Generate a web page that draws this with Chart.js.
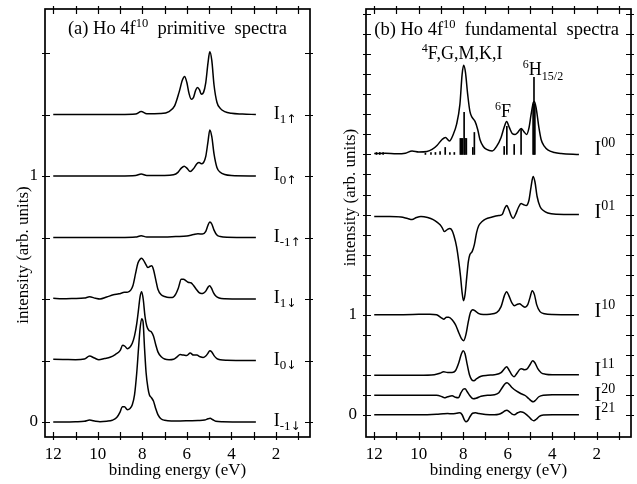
<!DOCTYPE html>
<html>
<head>
<meta charset="utf-8">
<script src="https://cdn.jsdelivr.net/npm/chart.js@4/dist/chart.umd.min.js"></script>
<style>
  html, body { margin: 0; padding: 0; background: #fff; }
  #wrap { position: relative; width: 637px; height: 484px; }
  #wrap canvas { position: absolute; top: 0; }
</style>
</head>
<body>
<div id="wrap">
  <canvas id="left" width="320" height="484" style="left:0"></canvas>
  <canvas id="right" width="317" height="484" style="left:320px"></canvas>
</div>
<script>
  // binding energy ticks (eV), both panels
  const energyTicks = [1, 2, 3, 4, 5, 6, 7, 8, 9, 10, 11, 12];

  // ---- (a) primitive spectra: [energy, intensity above its baseline]
  const I1up = [[12,0],[9,0],[8.3,0.002],[8.05,0.012],[7.8,0.003],[7.2,0.004],[6.8,0.012],[6.55,0.035],
    [6.35,0.09],[6.2,0.14],[6.1,0.155],[6.0,0.13],[5.9,0.085],[5.8,0.062],[5.7,0.07],[5.6,0.1],[5.52,0.11],
    [5.43,0.1],[5.35,0.082],[5.25,0.09],[5.15,0.13],[5.05,0.21],[4.97,0.255],[4.88,0.22],[4.78,0.12],
    [4.65,0.05],[4.5,0.025],[4.3,0.012],[4.0,0.005],[3.5,0.002],[2.9,0]];
  const I0up = [[12,0],[9,0],[8.3,0.002],[8.05,0.008],[7.8,0.002],[7.0,0.002],[6.6,0.005],[6.4,0.015],
    [6.25,0.032],[6.12,0.04],[6.0,0.032],[5.85,0.018],[5.7,0.03],[5.55,0.05],[5.45,0.055],[5.35,0.05],
    [5.25,0.055],[5.15,0.08],[5.05,0.14],[4.97,0.187],[4.88,0.16],[4.78,0.09],[4.65,0.035],[4.5,0.015],
    [4.3,0.006],[4.0,0.002],[2.9,0]];
  const Im1up = [[12,0],[9,0],[8.3,0.002],[8.05,0.007],[7.8,0.002],[7.0,0.002],[6.5,0.004],[6.0,0.006],
    [5.7,0.012],[5.5,0.015],[5.3,0.014],[5.15,0.025],[5.05,0.05],[4.97,0.063],[4.88,0.055],[4.78,0.03],
    [4.65,0.01],[4.5,0.004],[4.2,0.001],[2.9,0]];
  const I1dn = [[12,0.003],[11.6,0.001],[11.1,0.002],[10.6,0.004],[10.37,0.009],[10.1,0.003],[9.9,0],
    [9.6,0.008],[9.3,0.017],[9.05,0.021],[8.8,0.027],[8.65,0.028],[8.52,0.036],[8.42,0.055],[8.3,0.105],
    [8.2,0.145],[8.1,0.162],[8.03,0.166],[7.95,0.158],[7.85,0.142],[7.75,0.128],[7.65,0.133],[7.58,0.135],
    [7.5,0.12],[7.4,0.08],[7.3,0.04],[7.15,0.017],[7.0,0.01],[6.8,0.006],[6.65,0.006],[6.5,0.02],
    [6.38,0.045],[6.25,0.08],[6.15,0.08],[6.05,0.075],[5.95,0.068],[5.82,0.066],[5.7,0.055],[5.58,0.04],
    [5.45,0.026],[5.35,0.022],[5.25,0.024],[5.15,0.032],[5.05,0.048],[4.98,0.054],[4.9,0.045],[4.8,0.025],
    [4.7,0.012],[4.55,0.004],[4.3,0.001],[3.5,0],[2.9,0]];
  const I0dn = [[12,0.005],[11.5,0.004],[11.0,0.003],[10.6,0.006],[10.37,0.018],[10.15,0.01],[9.95,0.003],
    [9.7,0.008],[9.45,0.013],[9.2,0.025],[9.0,0.04],[8.88,0.062],[8.78,0.058],[8.67,0.048],[8.55,0.055],
    [8.45,0.07],[8.35,0.1],[8.25,0.15],[8.18,0.2],[8.1,0.26],[8.03,0.28],[7.96,0.25],[7.88,0.18],
    [7.8,0.14],[7.7,0.122],[7.6,0.117],[7.5,0.1],[7.4,0.065],[7.3,0.035],[7.15,0.015],[7.0,0.006],
    [6.8,0.003],[6.6,0.005],[6.45,0.014],[6.3,0.024],[6.15,0.022],[6.0,0.02],[5.85,0.03],[5.7,0.022],
    [5.55,0.022],[5.4,0.015],[5.27,0.012],[5.15,0.018],[5.05,0.03],[4.97,0.04],[4.88,0.035],[4.78,0.02],
    [4.65,0.008],[4.5,0.003],[4.2,0.001],[2.9,0]];
  const Im1dn = [[12,0],[11.5,0],[11.0,0.001],[10.6,0.003],[10.37,0.008],[10.1,0.003],[9.9,0.001],
    [9.6,0.003],[9.35,0.007],[9.15,0.018],[9.0,0.04],[8.9,0.062],[8.8,0.062],[8.67,0.05],[8.55,0.055],
    [8.45,0.07],[8.35,0.11],[8.25,0.2],[8.17,0.3],[8.1,0.38],[8.03,0.42],[7.97,0.41],[7.9,0.3],
    [7.83,0.2],[7.75,0.14],[7.68,0.11],[7.6,0.1],[7.5,0.085],[7.4,0.055],[7.3,0.03],[7.15,0.012],
    [7.0,0.007],[6.7,0.004],[6.3,0.004],[5.9,0.005],[5.5,0.006],[5.2,0.008],[5.05,0.013],[4.95,0.015],
    [4.85,0.01],[4.7,0.003],[4.4,0.001],[2.9,0]];
  const seriesA = [I1up, I0up, Im1up, I1dn, I0dn, Im1dn];
  const offsetsA = [1.25, 1.0, 0.75, 0.5, 0.25, 0];
  const subsA = ['1', '0', '-1', '1', '0', '-1'];
  const spinA = ['\u2191', '\u2191', '\u2191', '\u2193', '\u2193', '\u2193'];
  const yTicksA = [0, 0.25, 0.5, 0.75, 1.0, 1.25, 1.5];

  // ---- (b) fundamental spectra
  const I00 = [[12,0.01],[11.5,0.012],[11.0,0.006],[10.6,0.012],[10.3,0.035],[10.0,0.025],[9.63,0.03],
    [9.4,0.05],[9.18,0.09],[8.95,0.15],[8.8,0.17],[8.62,0.135],[8.45,0.2],[8.3,0.3],[8.15,0.5],[8.05,0.8],
    [7.98,0.89],[7.9,0.82],[7.8,0.6],[7.7,0.43],[7.6,0.37],[7.47,0.33],[7.35,0.25],[7.25,0.15],[7.1,0.08],
    [6.95,0.05],[6.7,0.035],[6.5,0.08],[6.3,0.17],[6.15,0.28],[6.05,0.33],[5.93,0.27],[5.8,0.21],
    [5.67,0.2],[5.55,0.22],[5.4,0.26],[5.28,0.23],[5.15,0.2],[5.05,0.26],[4.95,0.4],[4.85,0.52],
    [4.8,0.53],[4.72,0.46],[4.6,0.27],[4.5,0.15],[4.35,0.08],[4.2,0.045],[3.9,0.02],[3.6,0.01],[2.8,0]];
  const I01 = [[12,-0.02],[11.3,-0.02],[10.8,-0.025],[10.5,-0.04],[10.3,-0.05],[10.1,-0.03],[9.9,-0.02],
    [9.6,-0.03],[9.35,-0.05],[9.15,-0.08],[9.05,-0.1],[8.95,-0.13],[8.85,-0.17],[8.72,-0.15],[8.6,-0.14],
    [8.5,-0.16],[8.42,-0.21],[8.3,-0.32],[8.2,-0.47],[8.12,-0.62],[8.05,-0.78],[7.99,-0.86],[7.92,-0.8],
    [7.84,-0.62],[7.77,-0.47],[7.7,-0.4],[7.6,-0.37],[7.5,-0.3],[7.4,-0.18],[7.3,-0.11],[7.15,-0.07],
    [7.0,-0.045],[6.7,-0.025],[6.4,-0.01],[6.25,0.0],[6.12,0.07],[6.04,0.09],[5.95,0.05],[5.85,-0.01],
    [5.76,-0.04],[5.65,0.0],[5.52,0.07],[5.4,0.11],[5.3,0.1],[5.17,0.09],[5.05,0.14],[4.95,0.28],
    [4.86,0.38],[4.78,0.33],[4.68,0.18],[4.55,0.08],[4.4,0.04],[4.2,0.015],[3.8,0.003],[2.8,0]];
  const I10 = [[12,0],[11,0],[10,0.003],[9.5,0.005],[9.2,0],[9.0,-0.03],[8.88,-0.045],[8.75,-0.025],
    [8.65,-0.025],[8.5,-0.05],[8.35,-0.1],[8.2,-0.18],[8.08,-0.24],[7.98,-0.26],[7.88,-0.2],[7.78,-0.08],
    [7.68,0.02],[7.57,0.05],[7.45,0.035],[7.3,0.01],[7.1,0.002],[6.8,0.005],[6.5,0.02],[6.3,0.08],
    [6.15,0.19],[6.05,0.23],[5.95,0.19],[5.82,0.12],[5.7,0.09],[5.6,0.1],[5.47,0.11],[5.35,0.09],
    [5.22,0.075],[5.1,0.1],[5.0,0.17],[4.9,0.24],[4.8,0.2],[4.7,0.1],[4.55,0.03],[4.35,0.01],[4.0,0.002],[2.8,0]];
  const I11 = [[12,-0.005],[10,-0.005],[9.3,0],[9.05,0.015],[8.88,0.03],[8.7,0.022],[8.5,0.022],[8.35,0.04],
    [8.2,0.12],[8.08,0.21],[8.0,0.24],[7.92,0.21],[7.82,0.1],[7.72,0],[7.62,-0.05],[7.52,-0.06],[7.4,-0.04],
    [7.2,-0.015],[6.9,-0.005],[6.6,0],[6.3,0.02],[6.15,0.06],[6.05,0.08],[5.95,0.05],[5.82,0],[5.72,-0.02],
    [5.6,0.01],[5.45,0.055],[5.38,0.06],[5.25,0.05],[5.12,0.06],[5.0,0.1],[4.88,0.14],[4.78,0.12],
    [4.65,0.06],[4.5,0.02],[4.3,0.005],[4.0,0],[2.8,0]];
  const I20 = [[12,-0.005],[10,-0.005],[9.2,-0.005],[8.95,-0.02],[8.85,-0.03],[8.7,-0.02],[8.5,-0.01],
    [8.35,-0.025],[8.22,-0.03],[8.1,0.02],[8.0,0.055],[7.92,0.06],[7.82,0.03],[7.7,-0.01],[7.55,-0.04],
    [7.42,-0.035],[7.2,-0.015],[6.9,-0.005],[6.6,0],[6.4,0.02],[6.25,0.07],[6.12,0.11],[6.03,0.12],
    [5.92,0.1],[5.8,0.07],[5.6,0.035],[5.4,0.01],[5.2,-0.01],[5.05,-0.04],[4.92,-0.065],[4.85,-0.07],
    [4.75,-0.055],[4.6,-0.02],[4.4,-0.005],[4.0,0],[2.8,0]];
  const I21 = [[12,0],[10,0],[9.2,0.005],[8.9,0.01],[8.7,0.012],[8.5,0.01],[8.3,0.015],[8.15,0.02],
    [8.05,0],[7.95,-0.05],[7.88,-0.07],[7.8,-0.06],[7.7,-0.02],[7.58,0.015],[7.45,0.02],[7.3,0.012],
    [7.0,0.003],[6.6,0],[6.4,0.005],[6.25,0.02],[6.12,0.04],[6.04,0.045],[5.95,0.035],[5.82,0.01],
    [5.7,0],[5.55,0.02],[5.42,0.03],[5.32,0.025],[5.2,0.01],[5.05,-0.02],[4.92,-0.05],[4.83,-0.06],
    [4.72,-0.045],[4.58,-0.015],[4.4,-0.003],[4.0,0],[2.8,0]];
  const seriesB = [I00, I01, I10, I11, I20, I21];
  const offsetsB = [2.6, 2.0, 1.0, 0.4, 0.2, 0];
  const supsB = ['00', '01', '10', '11', '20', '21'];
  const yTicksB = [0, 0.2, 0.4, 0.6, 0.8, 1.0, 1.2, 1.4, 1.6, 1.8, 2.0, 2.2, 2.4, 2.6, 2.8, 3.0, 3.2, 3.4, 3.6, 3.8, 4.0];

  // multiplet lines under I00
  const stickE = [11.9, 11.75, 11.6, 9.7, 9.45, 9.25, 9.04, 8.81, 8.6, 8.4, 8.13, 8.08, 8.03, 7.96, 7.92, 7.86,
    7.57, 7.5, 6.16, 6.04, 5.71, 5.4, 4.86, 4.82, 4.78];
  const stickH = [0.02, 0.02, 0.02, 0.015, 0.02, 0.02, 0.03, 0.07, 0.02, 0.02, 0.16, 0.16, 0.16, 0.42, 0.16, 0.16,
    0.07, 0.22, 0.08, 0.28, 0.1, 0.25, 0.5, 0.77, 0.5];

  const SERIF = "'Liberation Serif', 'Times New Roman', serif";
  const ARROW = "'DejaVu Sans', sans-serif";

  const framePlugin = (yTicks) => ({
    id: 'frame',
    afterDraw(chart) {
      const { ctx, chartArea: a, scales: { x, y } } = chart;
      ctx.save();
      ctx.strokeStyle = '#000';
      ctx.lineWidth = 1.7;
      ctx.strokeRect(a.left, a.top, a.right - a.left, a.bottom - a.top);
      ctx.lineWidth = 1.2;
      ctx.beginPath();
      energyTicks.forEach(v => {
        const px = Math.round(x.getPixelForValue(v)) + 0.5;
        ctx.moveTo(px, a.bottom + 3); ctx.lineTo(px, a.bottom - 5);
        ctx.moveTo(px, a.top - 3); ctx.lineTo(px, a.top + 5);
      });
      yTicks.forEach(v => {
        const py = Math.round(y.getPixelForValue(v)) + 0.5;
        ctx.moveTo(a.left - 3, py); ctx.lineTo(a.left + 5, py);
        ctx.moveTo(a.right + 3, py); ctx.lineTo(a.right - 5, py);
      });
      ctx.stroke();
      ctx.restore();
    }
  });

  // text items: {x: eV, y: value, dy: px, rot, parts: [[text, size, shift, family]]}
  const textPlugin = (items) => ({
    id: 'texts',
    afterDraw(chart) {
      const { ctx, scales: { x, y } } = chart;
      ctx.save();
      ctx.fillStyle = '#000';
      items.forEach(it => {
        const px0 = x.getPixelForValue(it.x);
        const py = y.getPixelForValue(it.y) + (it.dy || 0);
        if (it.rot) {
          ctx.save();
          ctx.translate(px0, py);
          ctx.rotate(-Math.PI / 2);
          ctx.textAlign = 'center';
          ctx.textBaseline = 'middle';
          ctx.font = it.parts[0][1] + 'px ' + SERIF;
          ctx.fillText(it.parts[0][0], 0, 0);
          ctx.restore();
          return;
        }
        ctx.textAlign = 'left';
        ctx.textBaseline = 'alphabetic';
        let px = px0;
        it.parts.forEach(([t, size, shift, fam]) => {
          ctx.font = size + 'px ' + (fam || SERIF);
          ctx.fillText(t, px, py + shift);
          px += ctx.measureText(t).width;
        });
      });
      ctx.restore();
    }
  });

  function lineSets(series, offsets) {
    return series.map((s, i) => ({
      data: s.map(([e, v]) => ({ x: e, y: offsets[i] + v })),
      borderColor: '#000',
      borderWidth: 1.5,
      pointRadius: 0,
      fill: false,
      cubicInterpolationMode: 'monotone'
    }));
  }

  function noPad(s) {
    s.paddingTop = 0; s.paddingBottom = 0; s.paddingLeft = 0; s.paddingRight = 0;
  }

  function panel(id, p) {
    return new Chart(document.getElementById(id), {
      type: 'line',
      data: { datasets: p.datasets },
      options: {
        responsive: false,
        animation: false,
        events: [],
        layout: { padding: { top: 9, right: p.padRight, left: 0, bottom: 0 } },
        plugins: { legend: { display: false }, tooltip: { enabled: false } },
        scales: {
          x: {
            type: 'linear', reverse: true, bounds: 'data', offset: false,
            min: p.xMin, max: p.xMax,
            grid: { display: false, drawTicks: false }, border: { display: false },
            afterBuildTicks: s => { s.ticks = energyTicks.map(v => ({ value: v })); },
            ticks: {
              autoSkip: false, maxRotation: 0, padding: 7, color: '#000',
              font: { family: SERIF, size: 17 },
              callback: v => (v % 2 === 0 ? String(v) : '')
            },
            title: { display: true, text: 'binding energy (eV)', color: '#000',
              font: { family: SERIF, size: 17 }, padding: { top: 0, bottom: 3 } },
            afterFit: s => { s.height = 47; noPad(s); }
          },
          y: {
            type: 'linear', bounds: 'data', min: p.yMin, max: p.yMax,
            grid: { display: false, drawTicks: false }, border: { display: false },
            afterBuildTicks: s => { s.ticks = [0, 1].map(v => ({ value: v })); },
            ticks: { padding: p.yPad, color: '#000', font: { family: SERIF, size: 17 } },
            title: { display: false },
            afterFit: s => { s.width = p.axisW; noPad(s); }
          }
        }
      },
      plugins: [framePlugin(p.yTicks), textPlugin(p.texts)]
    });
  }

  // left panel
  const textsA = [
    { x: 11.34, y: 1.577, parts: [['(a) Ho 4f', 18.5, 0], ['10', 12.5, -7], ['  primitive  spectra', 18.5, 0]] },
    { x: 13.34, y: 0.679, rot: true, parts: [['intensity (arb. units)', 17, 0]] }
  ].concat(offsetsA.map((o, i) => ({ x: 2.1, y: o, dy: 4,
    parts: [['I', 18, 0], [subsA[i], 13, 4], [spinA[i], 12, 4, ARROW]] })));

  panel('left', {
    datasets: lineSets(seriesA, offsetsA),
    xMin: 0.47, xMax: 12.37, yMin: -0.061, yMax: 1.679,
    padRight: 10, axisW: 45, yPad: 7,
    yTicks: yTicksA, texts: textsA
  });

  // right panel
  const labelDyB = [1, 3, 2, 1, 6, 5];
  const textsB = [
    { x: 12.0, y: 3.79, parts: [['(b) Ho 4f', 18.5, 0], ['10', 12.5, -7], ['  fundamental  spectra', 18.5, 0]] },
    { x: 13.06, y: 2.17, rot: true, parts: [['intensity (arb. units)', 17, 0]] },
    { x: 9.86, y: 3.55, parts: [['4', 12, -7], ['F,G,M,K,I', 18, 0]] },
    { x: 6.57, y: 2.976, parts: [['6', 12, -7], ['F', 18, 0]] },
    { x: 5.32, y: 3.393, parts: [['6', 12, -7], ['H', 18, 0], ['15/2', 12, 5]] }
  ].concat(offsetsB.map((o, i) => ({ x: 2.1, y: o, dy: labelDyB[i], parts: [['I', 20, 0], [supsB[i], 14, -8]] })));

  const setsB = lineSets(seriesB, offsetsB);
  setsB.push({
    type: 'bar',
    data: stickE.map((e, i) => ({ x: e, y: [offsetsB[0], offsetsB[0] + stickH[i]] })),
    backgroundColor: '#000',
    borderWidth: 0,
    barThickness: 1,
    grouped: false
  });

  panel('right', {
    datasets: setsB,
    xMin: 0.46, xMax: 12.37, yMin: -0.222, yMax: 4.053,
    padRight: 6, axisW: 46, yPad: 9,
    yTicks: yTicksB, texts: textsB
  });
</script>
</body>
</html>
